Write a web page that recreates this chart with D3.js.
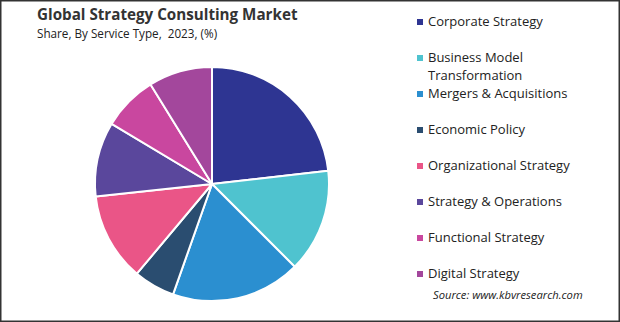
<!DOCTYPE html>
<html>
<head>
<meta charset="utf-8">
<script src="https://cdn.jsdelivr.net/npm/d3@7"></script>
<style>
  body { margin: 0; background: #fff; }
  svg { display: block; font-family: "Open Sans", "Noto Sans", sans-serif; }
</style>
</head>
<body>
<svg id="chart" width="620" height="322"></svg>
<script>
// Данные диаграммы
const categories = [
  "Corporate Strategy",
  "Business Model Transformation",
  "Mergers & Acquisitions",
  "Economic Policy",
  "Organizational Strategy",
  "Strategy & Operations",
  "Functional Strategy",
  "Digital Strategy"
];
const shares = [23.2, 14.3, 17.9, 5.7, 12.2, 10.3, 7.6, 8.8];
const colors = ["#2e3592", "#4fc3cf", "#2b8fd0", "#2a4d70", "#ea5587", "#5a479c", "#c9479f", "#a3479c"];
// Подписи легенды (перенос строк как в оригинале)
const legendLines = [
  ["Corporate Strategy"],
  ["Business Model", "Transformation"],
  ["Mergers & Acquisitions"],
  ["Economic Policy"],
  ["Organizational Strategy"],
  ["Strategy & Operations"],
  ["Functional Strategy"],
  ["Digital Strategy"]
];
const legendY = [21, 57, 93, 129, 165, 201, 237, 273];

const svg = d3.select("#chart");
const W = 620, H = 322;

// Рамка
svg.append("rect")
  .attr("x", 0.75).attr("y", 0.75)
  .attr("width", W - 1.5).attr("height", H - 1.5)
  .attr("fill", "#fff").attr("stroke", "#333").attr("stroke-width", 1.5);

// Заголовок
svg.append("text")
  .attr("x", 37).attr("y", 20)
  .attr("font-size", 15.2).attr("font-weight", 700).attr("fill", "#333")
  .text("Global Strategy Consulting Market");
svg.append("text")
  .attr("x", 37).attr("y", 38)
  .attr("font-size", 11.7).attr("fill", "#222")
  .style("white-space", "pre")
  .text("Share, By Service Type,  2023, (%)");

// Круговая диаграмма
const cx = 212, cy = 184, r = 117;
const pie = d3.pie().sort(null).value((d) => d.value);
const arc = d3.arc().innerRadius(0).outerRadius(r);
const data = categories.map((c, i) => ({ name: c, value: shares[i], color: colors[i] }));

svg.append("g")
  .attr("transform", "translate(" + cx + "," + cy + ")")
  .selectAll("path")
  .data(pie(data))
  .enter()
  .append("path")
  .attr("d", arc)
  .attr("fill", (d) => d.data.color)
  .attr("stroke", "#fff")
  .attr("stroke-width", 2)
  .attr("stroke-linejoin", "round");

// Легенда
const legend = svg.append("g");
const items = legend.selectAll("g")
  .data(data)
  .enter()
  .append("g")
  .attr("transform", (d, i) => "translate(417," + legendY[i] + ")");

items.append("rect")
  .attr("x", 0).attr("y", -2)
  .attr("width", 6).attr("height", 6)
  .attr("fill", (d) => d.color);

items.each(function (d, i) {
  const t = d3.select(this).append("text")
    .attr("x", 11).attr("y", 5)
    .attr("font-size", 13).attr("fill", "#222");
  legendLines[i].forEach((line, j) => {
    t.append("tspan").attr("x", 11).attr("dy", j === 0 ? 0 : 18).text(line);
  });
});

// Источник
svg.append("text")
  .attr("x", 433).attr("y", 299)
  .attr("font-size", 11.2).attr("font-style", "italic").attr("fill", "#222")
  .text("Source: www.kbvresearch.com");
</script>
</body>
</html>
